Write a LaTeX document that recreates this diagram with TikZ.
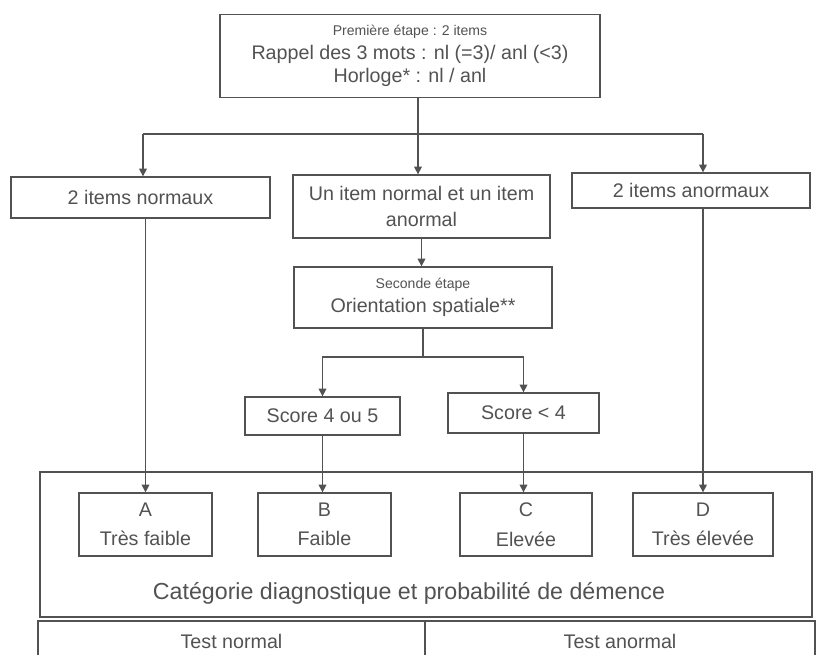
\documentclass[tikz,border=0pt]{standalone}
\usepackage{fontspec}
\setmainfont{Liberation Sans}
\usetikzlibrary{arrows.meta}
\colorlet{ink}{black!68}
\tikzset{
  boite/.style={draw=ink, line width=0.9pt, text=ink, align=center, inner sep=0pt,
    font=\fontsize{14}{16}\selectfont},
  fleche/.style={draw=ink, line width=0.8pt, -{Triangle[length=5.5pt,width=5.5pt]}},
  trait/.style={draw=ink, line width=0.8pt},
}
\def\petit{\fontsize{10}{12}\selectfont}

\begin{document}
\begin{tikzpicture}[x=0.025cm, y=-0.025cm]
  \useasboundingbox (0,0) rectangle (818,654);

  % premiere etape
  \node[boite, minimum width=9.5cm, minimum height=2.075cm] (etape1) at (410,56)
    {{\petit Première étape : 2 items}\\[1pt] Rappel des 3 mots : nl (=3)/ anl (<3)\\ Horloge* : nl / anl};

  \node[boite, minimum width=6.475cm, minimum height=1.025cm] (n2) at (140.5,197.5) {2 items normaux};
  \node[boite, minimum width=6.425cm, minimum height=1.575cm,
        font=\fontsize{14}{19}\selectfont] (mixte) at (421.5,206.5) {Un item normal et un item\\anormal};
  \node[boite, minimum width=5.95cm, minimum height=0.875cm] (a2) at (691,190.5) {2 items anormaux};

  % seconde etape
  \node[boite, minimum width=6.45cm, minimum height=1.525cm] (etape2) at (423,297.5)
    {{\petit Seconde étape}\\[1pt] Orientation spatiale**};
  \node[boite, minimum width=3.875cm, minimum height=0.95cm] (s45) at (322.5,416) {Score 4 ou 5};
  \node[boite, minimum width=3.775cm, minimum height=1cm] (s4) at (523.5,413) {Score < 4};

  % categories
  \node[boite, minimum width=19.3cm, minimum height=3.625cm] (cat) at (426,544.5) {};
  \node[text=ink, font=\fontsize{16.5}{19}\selectfont] (catlbl) at (409,593)
    {Catégorie diagnostique et probabilité de démence};
  \node[boite, minimum width=3.325cm, minimum height=1.575cm,
        font=\fontsize{14}{21}\selectfont] (A) at (145.5,524.5) {A\\Très faible};
  \node[boite, minimum width=3.325cm, minimum height=1.575cm,
        font=\fontsize{14}{21}\selectfont] (B) at (324.5,524.5) {B\\Faible};
  \node[boite, minimum width=3.3cm, minimum height=1.575cm,
        font=\fontsize{14}{21}\selectfont] (C) at (526,524.5) {C\\Elevée};
  \node[boite, minimum width=3.5cm, minimum height=1.575cm,
        font=\fontsize{14}{21}\selectfont] (D) at (703,524.5) {D\\Très élevée};

  \node[boite, minimum width=9.675cm, minimum height=1cm] (tn) at (231.5,641) {Test normal};
  \node[boite, minimum width=9.75cm, minimum height=1cm] (ta) at (620,641) {Test anormal};

  % branches
  \coordinate (b0) at (418,134);
  \coordinate (gl) at (143,134);
  \coordinate (gr) at (703,134);
  \draw[fleche] (etape1.south -| b0) -- (b0 |- mixte.north);
  \draw[trait] (gl) -- (gr);
  \draw[fleche] (gl) -- (gl |- n2.north);
  \draw[fleche] (gr) -- (gr |- a2.north);
  \draw[fleche] (mixte.south) -- (mixte.south |- etape2.north);

  \coordinate (b1) at (423,357);
  \draw[trait] (etape2.south) -- (b1);
  \draw[fleche] (b1) -| (s45.north);
  \draw[fleche] (b1) -| (s4.north);

  \draw[fleche] (A.north |- n2.south) -- (A.north);
  \draw[fleche] (s45.south) -- (s45.south |- B.north);
  \draw[fleche] (s4.south) -- (s4.south |- C.north);
  \draw[fleche] (D.north |- a2.south) -- (D.north);
\end{tikzpicture}
\end{document}
